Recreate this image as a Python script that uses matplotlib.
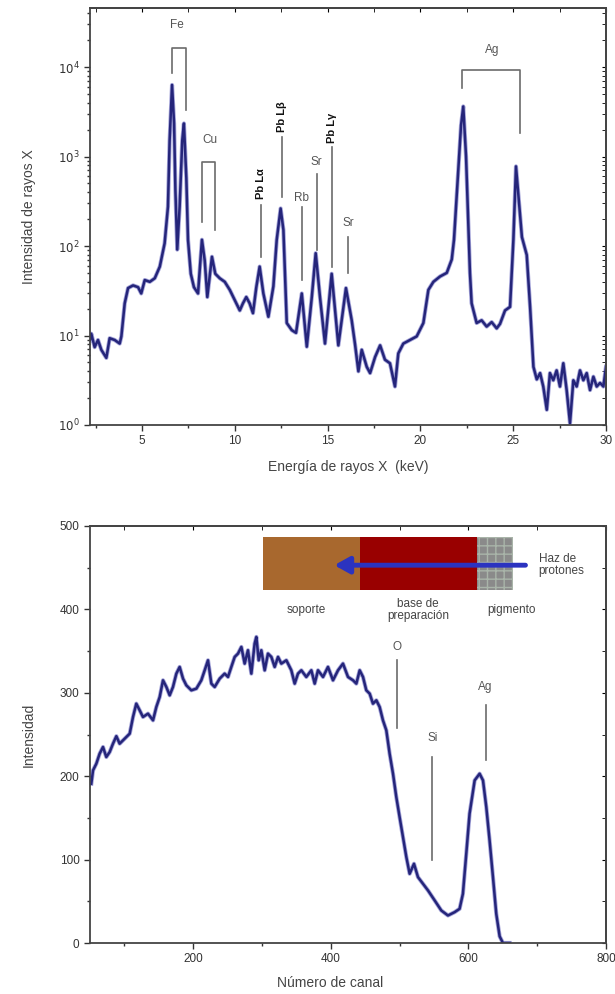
import numpy as np
import matplotlib
matplotlib.use('Agg')
import matplotlib.pyplot as plt
from matplotlib.patches import Rectangle, FancyArrowPatch

plt.rcParams['font.family'] = ['Liberation Sans', 'DejaVu Sans']

# ---------------- Panel superior: espectro de rayos X ----------------
energia_kev = [2.2, 2.27, 2.45, 2.63, 2.81, 3.08, 3.26, 3.53, 3.80, 3.89, 4.07, 4.25, 4.52, 4.79,
               4.96, 5.15, 5.42, 5.69, 5.96, 6.22, 6.40, 6.49, 6.62, 6.73, 6.80, 6.90, 7.03,
               7.17, 7.26, 7.39, 7.48, 7.63, 7.80, 8.02, 8.23, 8.38, 8.52, 8.77, 8.95, 9.19,
               9.46, 9.73, 9.99, 10.27, 10.44, 10.62, 10.80, 10.98, 11.16, 11.34, 11.54, 11.81,
               12.08, 12.26, 12.47, 12.62, 12.80, 13.07, 13.30, 13.61, 13.88, 14.15, 14.36,
               14.59, 14.86, 15.22, 15.58, 15.99, 16.30, 16.48, 16.66, 16.84, 17.11, 17.29,
               17.56, 17.83, 18.09, 18.36, 18.63, 18.81, 19.08, 19.44, 19.80, 20.16, 20.43,
               20.70, 21.06, 21.42, 21.69, 21.81, 22.03, 22.19, 22.31, 22.46, 22.57, 22.67,
               22.76, 23.03, 23.30, 23.57, 23.84, 24.11, 24.29, 24.56, 24.83, 24.92, 25.01,
               25.15, 25.31, 25.47, 25.73, 25.91, 26.09, 26.27, 26.45, 26.62, 26.81, 26.98,
               27.16, 27.34, 27.52, 27.70, 27.88, 28.06, 28.24, 28.42, 28.60, 28.78, 28.96,
               29.14, 29.32, 29.50, 29.68, 29.86, 30.0]
log_intensidad_rx = [0.95, 1.02, 0.87, 0.95, 0.84, 0.75, 0.97, 0.95, 0.91, 0.99, 1.36, 1.53, 1.56,
                     1.54, 1.47, 1.62, 1.60, 1.64, 1.77, 2.03, 2.44, 3.18, 3.80, 3.37, 2.63, 1.96,
                     2.44, 3.18, 3.37, 2.76, 2.07, 1.69, 1.54, 1.47, 2.07, 1.84, 1.43, 1.88, 1.69,
                     1.64, 1.60, 1.51, 1.40, 1.28, 1.36, 1.43, 1.36, 1.25, 1.54, 1.77, 1.47, 1.21,
                     1.55, 2.07, 2.42, 2.18, 1.14, 1.06, 1.03, 1.47, 0.875, 1.43, 1.92, 1.43, 0.91,
                     1.69, 0.89, 1.53, 1.17, 0.90, 0.60, 0.84, 0.65, 0.58, 0.76, 0.89, 0.73, 0.69,
                     0.43, 0.80, 0.91, 0.95, 0.99, 1.14, 1.51, 1.60, 1.66, 1.70, 1.85, 2.07, 2.8,
                     3.35, 3.56, 3.0, 2.3, 1.7, 1.36, 1.14, 1.17, 1.10, 1.15, 1.08, 1.13, 1.28,
                     1.32, 1.69, 2.07, 2.89, 2.5, 2.1, 1.9, 1.32, 0.65, 0.51, 0.58, 0.43, 0.17,
                     0.58, 0.50, 0.61, 0.43, 0.69, 0.39, 0.02, 0.50, 0.43, 0.61, 0.50, 0.58, 0.39,
                     0.54, 0.43, 0.47, 0.43, 0.65]
xticks_sup = [5, 10, 15, 20, 25, 30]
yticks_sup = [1, 10, 100, 1000, 10000]
yticklabels_sup = ['$10^0$', '$10^1$', '$10^2$', '$10^3$', '$10^4$']

# corchetes: etiqueta, x izq, x der, y sup (log), y fin izq (log), y fin der (log), x etiqueta, y etiqueta (log)
corchetes_sup = [
    ('Fe', 6.62, 7.39, 4.21, 3.93, 3.52, 6.89, 4.47),
    ('Cu', 8.23, 8.92, 2.94, 2.27, 2.18, 8.65, 3.18),
    ('Ag', 22.23, 25.37, 3.97, 3.77, 3.26, 23.84, 4.19),
]
# lineas: etiqueta, x, y inf (log), y sup (log), y etiqueta (log), negrita
lineas_sup = [
    ('Pb Lα', 11.40, 1.88, 2.46, 2.52, True),
    ('Pb Lβ', 12.53, 2.55, 3.22, 3.27, True),
    ('Rb', 13.61, 1.62, 2.44, 2.54, False),
    ('Sr', 14.41, 1.96, 2.81, 2.94, False),
    ('Pb Lγ', 15.22, 1.77, 3.11, 3.15, True),
    ('Sr', 16.12, 1.70, 2.10, 2.26, False),
]

# ---------------- Panel inferior: espectro RBS ----------------
canal = [51.9, 54.4, 59.2, 64, 68.9, 73.7, 78.6, 83.4, 88.3, 93.1, 100.4, 107.7, 112.5, 117.3,
         122.2, 127, 134.3, 141.6, 146.4, 151.3, 156.1, 161, 165.8, 170.6, 175.5, 180.3,
         185.2, 190, 197.3, 204.6, 211.8, 216.7, 221.5, 226.4, 231.2, 238.5, 245.7, 250.6,
         255.4, 260.3, 265.1, 270, 274.8, 279.6, 284.5, 289.3, 291.8, 295.2, 299, 303.9,
         308.7, 313.6, 318.4, 323.3, 328.1, 335.4, 342.6, 347.5, 352.3, 357.2, 364.4, 371.7,
         376.6, 381.4, 388.7, 395.9, 403.2, 410.5, 417.7, 425, 432.3, 437.1, 442, 446.8,
         451.6, 456.5, 461.3, 466.2, 471, 475.8, 480.7, 485.5, 490.4, 495.2, 500, 504.9,
         509.8, 514.6, 520.9, 526.7, 534, 541.3, 551, 560.6, 570.3, 580, 587.2, 592, 596.9,
         601.7, 609.1, 616.3, 621.2, 626, 630.8, 635.7, 640.5, 645.4, 650.2, 660]
intensidad_rbs = [191, 207, 215, 227, 235, 223, 229, 239, 248, 239, 245, 251, 271, 287, 279,
                  271, 275, 267, 283, 295, 315, 307, 297, 307, 323, 331, 317, 309, 303, 305,
                  315, 327, 339, 311, 307, 317, 323, 319, 331, 343, 347, 355, 335, 351, 323,
                  359, 367, 339, 351, 327, 347, 343, 331, 343, 335, 339, 327, 311, 323, 327,
                  319, 327, 311, 327, 319, 331, 315, 327, 335, 319, 315, 311, 327, 319, 303,
                  299, 287, 291, 283, 267, 255, 227, 203, 175, 151, 127, 103, 83, 95, 79, 71,
                  63, 51, 39, 33, 37, 41, 59, 107, 155, 195, 203, 195, 163, 123, 79, 35, 8, 0, 0]
xticks_inf = [200, 400, 600, 800]
yticks_inf = [0, 100, 200, 300, 400, 500]

# lineas: etiqueta, canal, y inf, y sup, y etiqueta
lineas_inf = [
    ('O', 496, 258, 339, 355),
    ('Si', 547.5, 100, 223, 246),
    ('Ag', 625, 219, 285, 307),
]
# capas del esquema: nombre, canal inicio, canal fin, color, x etiqueta
capas = [
    ('soporte', 301.9, 442.4, '#a8682e', 365),
    ('base de\npreparación', 442.4, 612.1, '#990000', 526.7),
    ('pigmento', 612.1, 665.3, '#8a8a8a', 663.4),
]

color_linea = '#25257a'
color_halo = '#6a6ac0'
color_anot = '#6b6b6b'
fs_tick = 8.5
fs_lab = 10
fs_anot = 8.5

fig = plt.figure(figsize=(6.15, 9.94), dpi=100)
W, H = 615, 994


def ax_px(l, t, r, b):
    return fig.add_axes([l / W, 1 - b / H, (r - l) / W, (b - t) / H])


def style(ax):
    for s in ax.spines.values():
        s.set_linewidth(1.3)
        s.set_color('#444444')
    ax.tick_params(which='both', direction='out', labelsize=fs_tick, colors='#333333', width=1)
    ax.tick_params(which='major', length=4)
    ax.tick_params(which='minor', length=2.5)


def mirror(ax, xmaj, xmin, ymaj, ymin):
    sx = ax.secondary_xaxis('top')
    sx.set_xticks(xmaj)
    if xmin is not None:
        sx.set_xticks(xmin, minor=True)
    sx.tick_params(which='both', direction='in', labeltop=False, length=3)
    sy = ax.secondary_yaxis('right')
    sy.set_yticks(ymaj)
    if ymin is not None:
        sy.set_yticks(ymin, minor=True)
    sy.tick_params(which='both', direction='in', labelright=False, length=3)
    for s in list(sx.spines.values()) + list(sy.spines.values()):
        s.set_linewidth(1.3)
        s.set_color('#444444')


# ---- top ----
ax1 = ax_px(90, 8, 606, 425)
ax1.plot(energia_kev, 10 ** np.array(log_intensidad_rx), color=color_halo, lw=3.0, alpha=0.6)
ax1.plot(energia_kev, 10 ** np.array(log_intensidad_rx), color=color_linea, lw=1.8)
ax1.set_yscale('log')
ax1.set_xlim(2.2, 30)
ax1.set_ylim(1, 10 ** 4.66)
ax1.set_xticks(xticks_sup)
ax1.set_xticks(np.arange(2.5, 30.1, 2.5), minor=True)
ax1.set_yticks(yticks_sup)
ax1.set_yticklabels(yticklabels_sup)
style(ax1)
ax1.set_xlabel('Energía de rayos X  (keV)', fontsize=fs_lab, color='#444444')
ax1.xaxis.set_label_coords(0.5, -0.085)
ax1.set_ylabel('Intensidad de rayos X', fontsize=fs_lab, color='#444444')
ax1.yaxis.set_label_coords(-0.105, 0.5)
mirror(ax1, xticks_sup, np.arange(2.5, 30.1, 2.5), yticks_sup, None)

for lab, xl, xr, yt, yl, yr, xt, ytx in corchetes_sup:
    ax1.plot([xl, xl, xr, xr], [10 ** yl, 10 ** yt, 10 ** yt, 10 ** yr], color=color_anot, lw=1.2)
    ax1.text(xt, 10 ** ytx, lab, fontsize=fs_anot, color='#555555', ha='center', va='center')
for lab, x, yb, yt, ytx, bold in lineas_sup:
    ax1.plot([x, x], [10 ** yb, 10 ** yt], color=color_anot, lw=1.2)
    if bold:
        ax1.text(x, 10 ** ytx, lab, fontsize=8, fontweight='bold', color='#111111',
                 ha='center', va='bottom', rotation=90)
    else:
        ax1.text(x, 10 ** ytx, lab, fontsize=fs_anot, color='#555555', ha='center', va='center')

# ---- bottom ----
ax2 = ax_px(90, 526, 606, 943)
ax2.plot(canal, intensidad_rbs, color=color_halo, lw=3.0, alpha=0.6)
ax2.plot(canal, intensidad_rbs, color=color_linea, lw=1.8)
ax2.set_xlim(50, 800)
ax2.set_ylim(0, 500)
ax2.set_xticks(xticks_inf)
ax2.set_xticks(np.arange(100, 801, 100), minor=True)
ax2.set_yticks(yticks_inf)
ax2.set_yticks(np.arange(50, 500, 100), minor=True)
style(ax2)
ax2.set_ylabel('Intensidad', fontsize=fs_lab, color='#444444')
ax2.yaxis.set_label_coords(-0.105, 0.5)
mirror(ax2, xticks_inf, np.arange(100, 801, 100), yticks_inf, np.arange(50, 500, 100))
fig.text(330 / W, 1 - 983 / H, 'Número de canal', fontsize=fs_lab, color='#444444',
         ha='center', va='center')

for lab, x, yb, yt, ytx in lineas_inf:
    ax2.plot([x, x], [yb, yt], color=color_anot, lw=1.2)
    ax2.text(x, ytx, lab, fontsize=fs_anot, color='#555555', ha='center', va='center')

for nombre, c0, c1, col, xt in capas:
    if nombre == 'pigmento':
        ax2.add_patch(Rectangle((c0, 423.3), c1 - c0, 487.2 - 423.3, facecolor=col,
                                edgecolor='#a9b4a9', hatch='++', lw=0, zorder=3))
    else:
        ax2.add_patch(Rectangle((c0, 423.3), c1 - c0, 487.2 - 423.3, facecolor=col,
                                edgecolor='none', zorder=3))
    ax2.text(xt, 399, nombre, fontsize=fs_anot, color='#444444', ha='center', va='center',
             linespacing=1.0)
ax2.add_patch(FancyArrowPatch((687, 453), (401, 453),
                              arrowstyle='-|>,head_length=9,head_width=5',
                              mutation_scale=1, color='#2b33c0', lw=3.5, zorder=4))
ax2.text(702, 453, 'Haz de\nprotones', fontsize=fs_anot, color='#444444', ha='left', va='center',
         linespacing=1.0)

fig.savefig('out.png', dpi=100)
